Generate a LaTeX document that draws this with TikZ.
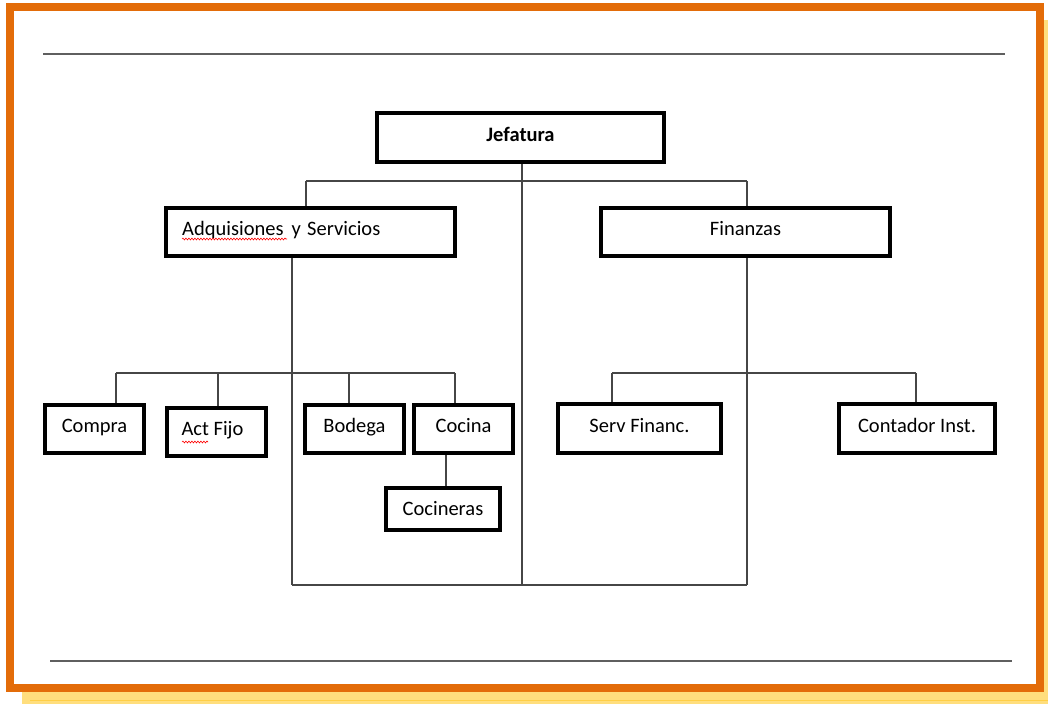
\documentclass[tikz,border=0pt]{standalone}
\usepackage{fontspec}
\setmainfont{Carlito}
\usetikzlibrary{decorations.pathmorphing}
\definecolor{frameorange}{RGB}{227,108,9}
\definecolor{shadowyellow}{RGB}{255,222,125}
\definecolor{shadowline}{RGB}{255,206,70}
\definecolor{conngray}{RGB}{70,70,70}
\definecolor{rulegray}{RGB}{95,95,95}
\tikzset{
  box/.style={draw=black, line width=4pt, fill=white, rectangle, inner sep=0pt,
    font=\fontsize{20.5}{24}\selectfont, text height=12pt, text depth=5pt},
  lbl/.style={inner sep=0pt, font=\fontsize{20.5}{24}\selectfont},
  conn/.style={draw=conngray, line width=1.5pt},
  hrule/.style={draw=rulegray, line width=2.5pt},
  spell/.style={draw=red, line width=0.6pt, decorate,
    decoration={snake, amplitude=0.9pt, segment length=3pt}}
}
\begin{document}
\begin{tikzpicture}[x=1pt,y=-1pt]
\useasboundingbox (0,0) rectangle (1048,704);
% shadow and frame
\fill[shadowyellow] (22,20) rectangle (1048,704);
\draw[shadowline, line width=1pt] (30,700.5) -- (1048,700.5);
\draw[frameorange, line width=8pt, fill=white] (10,7) rectangle (1040,688);
% rules
\draw[hrule] (43,54) -- (1005,54);
\draw[hrule] (50,661) -- (1012,661);
% coordinates of connector corners
\coordinate (t1) at (306,181);
\coordinate (t2) at (747,181);
\coordinate (jb) at (522,585);
\coordinate (b1) at (292,585);
\coordinate (b2) at (747,585);
\coordinate (l1) at (116,373);
\coordinate (l2) at (218,373);
\coordinate (l3) at (349,373);
\coordinate (l4) at (455,373);
\coordinate (r1) at (612,373);
\coordinate (r2) at (916,373);
\coordinate (kc) at (446,470);
% connectors (drawn first, boxes on top)
\path[conn] (t1) -- (t2);
\path[conn] (b1) -- (b2);
\path[conn] (l1) -- (l4);
\path[conn] (r1) -- (r2);
% boxes
\node[box, minimum width=287pt, minimum height=49pt, font=\fontsize{20.5}{24}\selectfont\bfseries] (jef) at (520.5,137.5) {Jefatura};
\node[box, minimum width=289pt, minimum height=48pt] (adq) at (310.5,232) {};
\node[lbl, anchor=base west] (adqlbl) at (182,235) {Adquisiones\hspace{0.4em}y\hspace{0.3em}Servicios};
\node[box, minimum width=289pt, minimum height=48pt] (fin) at (745.5,232) {Finanzas};
\node[box, minimum width=99pt, minimum height=48pt] (compra) at (94.5,429) {Compra};
\node[box, minimum width=99pt, minimum height=48pt] (act) at (216.5,432) {\hspace{-8pt}Act Fijo};
\node[box, minimum width=99pt, minimum height=48pt] (bod) at (354.5,429) {Bodega};
\node[box, minimum width=99pt, minimum height=48pt] (coc) at (463.5,429) {Cocina};
\node[box, minimum width=114pt, minimum height=42pt, text height=13pt, text depth=1pt] (cocn) at (443,509) {Cocineras};
\node[box, minimum width=163pt, minimum height=49pt] (serv) at (639.5,428.5) {Serv Financ.};
\node[box, minimum width=156pt, minimum height=49pt] (cont) at (917,428.5) {Contador Inst.};
% connectors
\path[conn] (adq.north -| t1) -- (t1);
\path[conn] (fin.north -| t2) -- (t2);
\path[conn] (jef.south -| jb) -- (jb);
\path[conn] (adq.south -| b1) -- (b1);
\path[conn] (fin.south -| b2) -- (b2);
\path[conn] (l1) -- (compra.north -| l1);
\path[conn] (l2) -- (act.north -| l2);
\path[conn] (l3) -- (bod.north -| l3);
\path[conn] (l4) -- (coc.north -| l4);
\path[conn] (coc.south -| kc) -- (cocn.north -| kc);
\path[conn] (r1) -- (serv.north -| r1);
\path[conn] (r2) -- (cont.north -| r2);
% spell-check underlines
\draw[spell] (182,239) -- (287,239);
\draw[spell] (182,442) -- (208,442);
\end{tikzpicture}
\end{document}
